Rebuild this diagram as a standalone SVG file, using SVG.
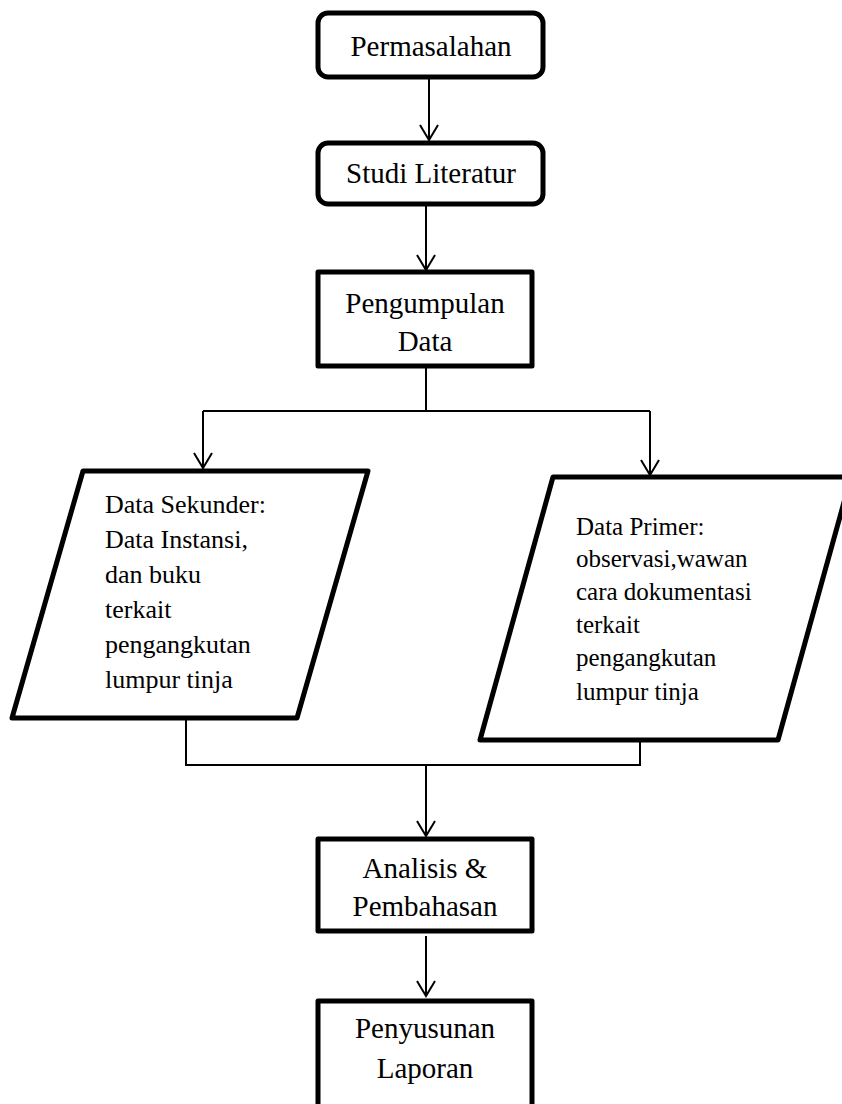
<svg xmlns="http://www.w3.org/2000/svg" width="842" height="1104" viewBox="0 0 842 1104">
<style>
.node{fill:#fff;stroke:#000;stroke-width:5;stroke-linejoin:round}
.t{font-family:"Liberation Serif","Times New Roman",serif;font-size:29px;fill:#000;text-anchor:middle}
.p{font-family:"Liberation Serif","Times New Roman",serif;font-size:26px;fill:#000}
.q{font-family:"Liberation Serif","Times New Roman",serif;font-size:25px;fill:#000}
.c{fill:none;stroke:#000;stroke-width:2}
</style>
<defs>
<marker id="ah" viewBox="0 0 20 20" refX="16" refY="10" markerWidth="20" markerHeight="20" markerUnits="userSpaceOnUse" orient="auto">
<path d="M1,1 L16,10 L1,19" fill="none" stroke="#000" stroke-width="2"/>
</marker>
</defs>
<rect width="842" height="1104" fill="#fff"/>
<g id="connectors">
<line class="c" x1="429" y1="78" x2="429" y2="140" marker-end="url(#ah)"/>
<line class="c" x1="426" y1="205" x2="426" y2="270" marker-end="url(#ah)"/>
<polyline class="c" points="426,366 426,411"/>
<polyline class="c" points="203,411 650,411"/>
<line class="c" x1="203" y1="411" x2="203" y2="468" marker-end="url(#ah)"/>
<line class="c" x1="650" y1="411" x2="650" y2="475" marker-end="url(#ah)"/>
<polyline class="c" points="186,718 186,765 640,765 640,740"/>
<line class="c" x1="426" y1="765" x2="426" y2="836" marker-end="url(#ah)"/>
<line class="c" x1="426" y1="936" x2="426" y2="996" marker-end="url(#ah)"/>
</g>
<g id="permasalahan">
<rect class="node" x="318" y="13" width="225" height="64" rx="10"/>
<text class="t" x="431" y="56">Permasalahan</text>
</g>
<g id="studi-literatur">
<rect class="node" x="318" y="143" width="225" height="61" rx="10"/>
<text class="t" x="431" y="183">Studi Literatur</text>
</g>
<g id="pengumpulan-data">
<rect class="node" x="318" y="272" width="214" height="94"/>
<text class="t" x="425" y="313">Pengumpulan</text>
<text class="t" x="425" y="351">Data</text>
</g>
<g id="data-sekunder">
<polygon class="node" points="83,471 368,471 297,718 12,718"/>
<text class="p" x="105" y="513">Data Sekunder:</text>
<text class="p" x="105" y="548">Data Instansi,</text>
<text class="p" x="105" y="583">dan buku</text>
<text class="p" x="105" y="618">terkait</text>
<text class="p" x="105" y="653">pengangkutan</text>
<text class="p" x="105" y="688">lumpur tinja</text>
</g>
<g id="data-primer">
<polygon class="node" points="553,477 851,477 778,740 480,740"/>
<text class="q" x="576" y="535">Data Primer:</text>
<text class="q" x="576" y="567">observasi,wawan</text>
<text class="q" x="576" y="600">cara dokumentasi</text>
<text class="q" x="576" y="633">terkait</text>
<text class="q" x="576" y="666">pengangkutan</text>
<text class="q" x="576" y="700">lumpur tinja</text>
</g>
<g id="analisis">
<rect class="node" x="318" y="839" width="214" height="92"/>
<text class="t" x="425" y="878">Analisis &amp;</text>
<text class="t" x="425" y="916">Pembahasan</text>
</g>
<g id="penyusunan">
<rect class="node" x="318" y="1001" width="214" height="110"/>
<text class="t" x="425" y="1038">Penyusunan</text>
<text class="t" x="425" y="1078">Laporan</text>
</g>
</svg>
